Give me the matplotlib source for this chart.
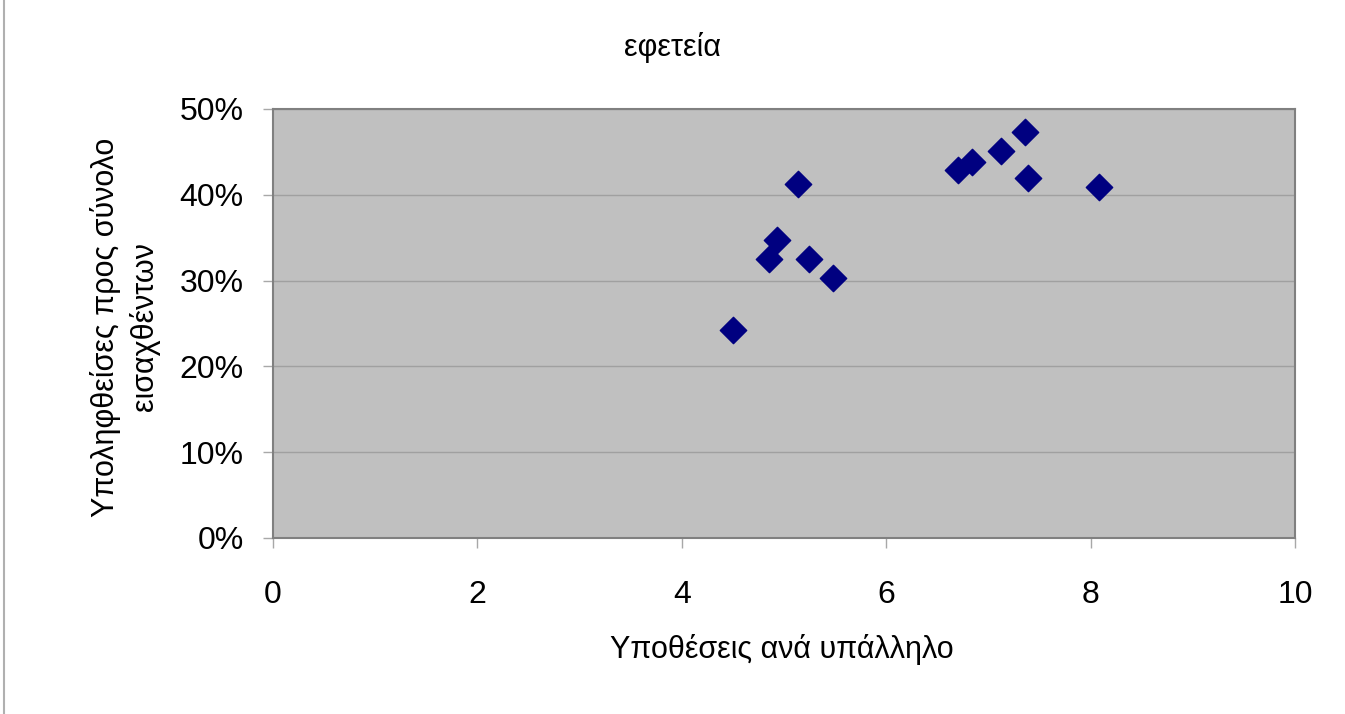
import matplotlib.pyplot as plt
from matplotlib.ticker import PercentFormatter
from matplotlib.lines import Line2D

# Υποθέσεις ανά υπάλληλο vs ποσοστό υποληφθεισών (εφετεία)
ypotheseis = [4.50, 4.85, 4.93, 5.14, 5.24, 5.48, 6.70, 6.84, 7.12, 7.36, 7.39, 8.08]
pososto = [24.2, 32.5, 34.7, 41.3, 32.5, 30.3, 42.9, 43.8, 45.1, 47.3, 41.9, 40.9]

x_ticks = [0, 2, 4, 6, 8, 10]
y_ticks = [0, 10, 20, 30, 40, 50]

plt.rcParams['font.family'] = ['Liberation Sans', 'DejaVu Sans']

fig = plt.figure(figsize=(13.45, 7.14), dpi=100)
ax = fig.add_axes([0.203, 0.2465, 0.760, 0.601])
ax.set_facecolor('#C0C0C0')

ax.scatter(ypotheseis, pososto, marker='D', s=180, color='#000080', zorder=3)

ax.set_xlim(0, 10)
ax.set_ylim(0, 50)
ax.set_xticks(x_ticks)
ax.set_yticks(y_ticks)
ax.yaxis.set_major_formatter(PercentFormatter(decimals=0))
ax.grid(axis='y', color='#A0A0A0', linewidth=1)
ax.set_axisbelow(True)

for s in ax.spines.values():
    s.set_color('#808080')
    s.set_linewidth(1.5)

ax.tick_params(axis='both', labelsize=23, color='#A8A8A8', length=7, width=1)
ax.tick_params(axis='x', pad=23)
ax.tick_params(axis='y', pad=14)

fig.text(0.5, 0.934, 'εφετεία', ha='center', va='center', fontsize=22)
fig.text(0.581, 0.09, 'Υποθέσεις ανά υπάλληλο', ha='center', va='center', fontsize=22)
fig.text(0.093, 0.542, 'Υποληφθείσες προς σύνολο\nεισαχθέντων', ha='center', va='center',
         rotation=90, fontsize=22, linespacing=1.3)

# λεπτή γραμμή στο αριστερό άκρο της εικόνας
fig.add_artist(Line2D([0.003, 0.003], [0, 1], color='#B0B0B0', linewidth=1.5, transform=fig.transFigure))

fig.savefig('out.png', dpi=100)
